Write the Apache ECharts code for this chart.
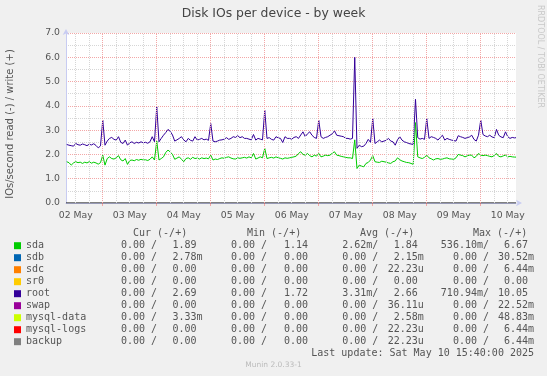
<!DOCTYPE html>
<html><head><meta charset="utf-8">
<script src="https://cdn.jsdelivr.net/npm/echarts@6/dist/echarts.min.js"></script>
<style>html,body{margin:0;padding:0;background:#F0F0F0;}#c{width:547px;height:376px;}</style>
</head><body><div id="c"></div>
<script>
// ---------- data ----------
const chartTitle = 'Disk IOs per device - by week';
const yAxisTitle = 'IOs/second read (-) / write (+)';
const sideText = 'RRDTOOL / TOBI OETIKER';
const startHour = 7.667;   // hours since 02 May 00:00
const endHour = 207.667;   // 10 May 15:40
const firstSampleHour = 8;
const dayLabels = ['02 May','03 May','04 May','05 May','06 May','07 May','08 May','09 May','10 May'];
const yTicks = [0,1,2,3,4,5,6,7];

// write IOs/s, hourly samples from 02 May 08:00, last sample at 10 May 15:40
const sdaWrite = [
1.70,1.66,1.56,1.65,1.70,1.66,1.68,1.63,1.68,1.65,1.70,1.64,1.68,1.65,1.60,1.66,
1.97,
1.56,1.83,1.90,1.83,1.81,1.86,1.95,1.78,1.73,1.83,1.59,
1.75,1.77,1.74,1.79,1.76,1.80,1.77,1.78,1.75,1.80,1.90,1.77,
2.55,
1.77,1.83,1.90,2.08,2.18,2.10,2.00,1.80,1.85,1.90,1.80,
1.70,1.83,1.86,1.80,1.88,1.83,1.85,1.81,1.86,1.83,1.85,1.82,
1.97,
1.77,1.81,1.79,1.83,1.86,1.84,1.88,1.90,1.85,1.82,1.81,1.86,1.84,1.86,1.88,1.85,1.90,1.86,2.04,1.81,1.85,1.90,1.86,
2.25,
1.83,1.86,1.88,1.85,1.90,1.86,1.84,1.81,1.86,1.84,1.86,1.88,1.90,1.93,2.04,2.11,2.00,1.97,2.04,1.95,1.90,1.97,1.93,
2.04,
1.90,1.93,1.97,1.95,1.97,2.05,2.11,1.97,1.95,1.92,1.90,1.88,1.86,1.86,1.83,
2.60,
1.42,1.56,1.52,1.49,1.63,1.67,1.77,
1.95,
1.70,1.68,1.67,1.72,1.70,1.68,1.65,1.63,1.70,1.73,1.86,1.78,1.73,1.70,1.67,1.66,1.63,1.59,
3.31,
1.90,1.86,1.83,1.88,
1.97,
1.86,1.82,1.77,1.82,1.83,1.80,1.81,1.84,1.86,1.82,1.81,1.80,1.86,2.00,1.97,1.95,1.90,1.94,1.97,1.97,1.86,1.92,2.04,
1.97,
1.95,1.97,1.95,1.92,1.90,1.96,2.04,1.92,1.90,1.94,1.97,1.90,1.92,1.90,1.89,
1.89
];
const rootWrite = [
2.41,2.38,2.36,2.34,2.45,2.40,2.38,2.43,2.40,2.36,2.42,2.39,2.44,2.37,2.27,2.35,
3.41,
2.38,2.55,2.66,2.70,2.62,2.59,2.73,2.50,2.45,2.59,2.38,
2.48,2.52,2.45,2.50,2.47,2.52,2.48,2.50,2.46,2.52,2.73,2.52,
3.96,
2.52,2.66,2.79,2.90,3.03,2.95,2.80,2.55,2.60,2.66,2.73,
2.60,2.52,2.66,2.58,2.55,2.73,2.59,2.62,2.66,2.60,2.63,2.58,
3.27,
2.55,2.52,2.55,2.59,2.60,2.63,2.69,2.62,2.66,2.73,2.70,2.77,2.69,2.73,2.66,2.66,2.63,2.60,2.82,2.59,2.66,2.63,2.60,
3.82,
2.66,2.69,2.62,2.59,2.73,2.68,2.66,2.49,2.73,2.66,2.66,2.63,2.70,2.73,2.66,2.80,2.93,2.73,2.85,2.93,2.79,2.70,2.66,
3.41,
2.73,2.66,2.70,2.73,2.79,2.85,2.97,2.79,2.77,2.75,2.73,2.66,2.66,2.63,2.66,
6.00,
2.25,2.38,2.32,2.34,2.45,2.62,2.50,
3.48,
2.45,2.52,2.59,2.52,2.55,2.58,2.66,2.55,2.52,2.38,2.60,2.73,2.59,2.52,2.49,2.45,2.43,2.41,
4.27,
2.69,2.63,2.66,2.62,
3.48,
2.66,2.73,2.70,2.66,2.59,2.70,2.79,2.59,2.66,2.62,2.59,2.57,2.55,2.77,2.73,2.70,2.66,2.69,2.72,2.79,2.62,2.55,2.79,
3.41,
2.82,2.76,2.73,2.79,2.72,2.69,3.03,2.79,2.72,2.69,2.93,2.73,2.66,2.70,2.68,
2.69
];

const legendNames  = ['sda','sdb','sdc','sr0','root','swap','mysql-data','mysql-logs','backup'];
const legendColors = ['#00CC00','#0066B3','#FF8000','#FFCC00','#330099','#990099','#CCFF00','#FF0000','#808080'];
const colHeaders = ['Cur (-/+)','Min (-/+)','Avg (-/+)','Max (-/+)'];
const curRead  = ['0.00 /','0.00 /','0.00 /','0.00 /','0.00 /','0.00 /','0.00 /','0.00 /','0.00 /'];
const curWrite = ['1.89 ','2.78m','0.00 ','0.00 ','2.69 ','0.00 ','3.33m','0.00 ','0.00 '];
const minRead  = ['0.00 /','0.00 /','0.00 /','0.00 /','0.00 /','0.00 /','0.00 /','0.00 /','0.00 /'];
const minWrite = ['1.14 ','0.00 ','0.00 ','0.00 ','1.72 ','0.00 ','0.00 ','0.00 ','0.00 '];
const avgRead  = ['2.62m/','0.00 /','0.00 /','0.00 /','3.31m/','0.00 /','0.00 /','0.00 /','0.00 /'];
const avgWrite = ['1.84 ','2.15m','22.23u','0.00 ','2.66 ','36.11u','2.58m','22.23u','22.23u'];
const maxRead  = ['536.10m/','0.00 /','0.00 /','0.00 /','710.94m/','0.00 /','0.00 /','0.00 /','0.00 /'];
const maxWrite = ['6.67 ','30.52m','6.44m','0.00 ','10.05 ','22.52m','48.83m','6.44m','6.44m'];
const lastUpdate = 'Last update: Sat May 10 15:40:00 2025';
const footer = 'Munin 2.0.33-1';

// ---------- build ----------
const sampleHours = sdaWrite.map((_, i) => i < sdaWrite.length - 1 ? firstSampleHour + i : endHour);
const sdaData = sampleHours.map((h, i) => [h, sdaWrite[i]]);
const rootData = sampleHours.map((h, i) => [h, rootWrite[i]]);
const noonHours = dayLabels.map((_, i) => 12 + 24 * i);
const dayBounds = dayLabels.slice(1).map((_, i) => 24 * (i + 1));
const gridHours = [];
for (let h = 12; h < endHour; h += 6) gridHours.push(h);

const RED = '#F3A7A7', GRAY = '#D6D6D6';
const markData = gridHours.map(h => ({
  xAxis: h,
  lineStyle: { color: h % 24 === 0 ? RED : GRAY, type: [1, 1], width: 1 }
}));
markData.push({ xAxis: endHour, lineStyle: { color: '#9A9A9A', type: 'solid', width: 1.5 } });

const MONO = '"DejaVu Sans Mono", monospace';
const SANS = '"DejaVu Sans", sans-serif';
const TXT = '#555555';
const graphics = [];
function txt(text, x, y, align, opts) {
  opts = opts || {};
  graphics.push({
    type: 'text', x: x, y: y, rotation: opts.rotation || 0, silent: true,
    style: {
      text: text, x: 0, y: 0, fill: opts.fill || TXT,
      font: opts.font || ('10px ' + MONO),
      align: align, textAlign: align, verticalAlign: 'middle', textVerticalAlign: 'middle'
    }
  });
}
txt(chartTitle, 273.5, 14, 'center', { font: '12.4px ' + SANS, fill: '#444' });
txt(yAxisTitle, 10, 124, 'center', { font: '10px ' + SANS, rotation: Math.PI / 2 });
txt(sideText, 540, 5, 'left', { font: '8px ' + SANS, fill: '#C8C8C8', rotation: -Math.PI / 2 });

const headerX = [133, 247, 360, 473];
colHeaders.forEach((h, i) => txt(h, headerX[i], 233.7, 'left'));
const rowY0 = 245.7, rowStep = 12;
legendNames.forEach((name, i) => {
  const y = rowY0 + rowStep * i;
  graphics.push({ type: 'rect', silent: true, shape: { x: 14, y: y - 3.5, width: 7, height: 7 },
    style: { fill: legendColors[i] } });
  txt(name, 26, y, 'left');
  txt(curRead[i], 157, y, 'right');
  txt(curWrite[i], 202.6, y, 'right');
  txt(minRead[i], 267, y, 'right');
  txt(minWrite[i], 314, y, 'right');
  txt(avgRead[i], 378.3, y, 'right');
  txt(avgWrite[i], 423.8, y, 'right');
  txt(maxRead[i], 489, y, 'right');
  txt(maxWrite[i], 534, y, 'right');
});
txt(lastUpdate, 534, 353.3, 'right');
txt(footer, 273.5, 365, 'center', { font: '7.5px ' + SANS, fill: '#BBBBBB' });

const chart = echarts.init(document.getElementById('c'), null, { renderer: 'canvas' });
chart.setOption({
  animation: false,
  backgroundColor: '#F0F0F0',
  grid: { left: 66, top: 33, width: 450, height: 170, show: true, backgroundColor: '#FFFFFF', borderWidth: 0 },
  xAxis: {
    type: 'value', min: startHour, max: endHour,
    axisLine: { show: true, onZero: false, lineStyle: { color: '#C8CCF2', width: 1 },
      symbol: ['none', 'arrow'], symbolSize: [5, 6], symbolOffset: [0, 6] },
    axisTick: { show: true, customValues: dayBounds, length: 3, lineStyle: { color: RED } },
    axisLabel: { customValues: noonHours, formatter: v => dayLabels[Math.round((v - 12) / 24)],
      fontFamily: SANS, fontSize: 9.3, color: TXT, margin: 8 },
    splitLine: { show: false }
  },
  yAxis: {
    type: 'value', min: 0, max: 7, interval: 0.5,
    axisLine: { show: true, lineStyle: { color: '#C8CCF2', width: 1 },
      symbol: ['none', 'arrow'], symbolSize: [5, 6], symbolOffset: [0, 4] },
    axisTick: { show: false },
    axisLabel: { formatter: v => (yTicks.indexOf(v) >= 0 ? v.toFixed(1) : ''),
      fontFamily: SANS, fontSize: 9.3, color: TXT, margin: 6 },
    splitLine: { show: true, lineStyle: { color: [RED, GRAY], type: [1, 1], width: 1 } }
  },
  graphic: graphics,
  series: [
    { type: 'line', z: 1, data: [[startHour, 0], [endHour, 0]], showSymbol: false, silent: true,
      lineStyle: { color: '#000000', width: 1 },
      markLine: { silent: true, symbol: ['none', 'none'], label: { show: false }, animation: false,
        data: markData } },
    { name: 'sda', type: 'line', z: 3, data: sdaData, showSymbol: false, silent: true,
      lineStyle: { color: '#00CC00', width: 1 } },
    { name: 'root', type: 'line', z: 4, data: rootData, showSymbol: false, silent: true,
      lineStyle: { color: '#330099', width: 1 } }
  ]
});
</script></body></html>
